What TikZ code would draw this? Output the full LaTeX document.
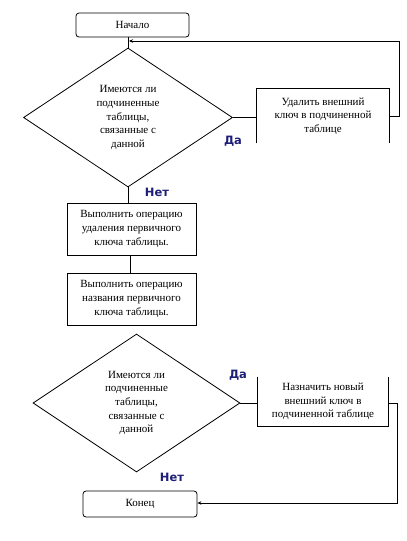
\documentclass[tikz,border=0pt]{standalone}
\usepackage{fontspec}
\setmainfont{Liberation Serif}
\newfontfamily\lblfont{DejaVu Sans}
\usetikzlibrary{shapes.geometric,arrows.meta}
\definecolor{lblblue}{RGB}{30,30,120}
\tikzset{
  every path/.style={line width=0.8pt},
  txt/.style={font=\fontsize{11}{13.7}\selectfont, align=center, inner sep=0pt},
  termbox/.style={txt, draw, rectangle, rounded corners=3pt},
  procbox/.style={txt, rectangle},
  decision/.style={txt, draw, diamond, inner sep=0pt},
  yesno/.style={font=\lblfont\bfseries\fontsize{11.5}{13}\selectfont, text=lblblue, inner sep=0pt},
  arr/.style={-{Stealth[length=4pt,width=3.5pt]}}
}
\begin{document}
\begin{tikzpicture}[x=1pt,y=-1pt]
\useasboundingbox (0,0) rectangle (407,541);
\node[termbox, minimum width=113pt, minimum height=24pt] (start) at (132.5,25) {Начало};
\node[decision, minimum width=209pt, minimum height=139pt] (d1) at (128,117.5)
  {Имеются ли\\подчиненные\\таблицы,\\связанные с\\данной};
\node[procbox, minimum width=132pt, minimum height=54pt] (b1) at (323,116)
  {Удалить внешний\\ключ в подчиненной\\таблице};
\node[procbox, draw, minimum width=129pt, minimum height=52pt] (b2) at (131.5,229)
  {Выполнить операцию\\удаления первичного\\ключа таблицы.};
\node[procbox, draw, minimum width=129pt, minimum height=52pt] (b3) at (131.5,299)
  {Выполнить операцию\\названия первичного\\ключа таблицы.};
\node[decision, minimum width=207pt, minimum height=138pt] (d2) at (136.5,403)
  {Имеются ли\\подчиненные\\таблицы,\\связанные с\\данной};
\node[procbox, minimum width=130pt, minimum height=49pt] (b4) at (323,401.5)
  {Назначить новый\\внешний ключ в\\подчиненной таблице};
\node[termbox, minimum width=114pt, minimum height=26pt] (end) at (140,504) {Конец};

% open-sided boxes
\draw (b1.south west) -- (b1.north west) -- (b1.north east) -- (b1.south east);
\draw (b4.north west) -- (b4.south west) -- (b4.south east) -- (b4.north east);

% connectors
\coordinate (j1) at (128,41);
\coordinate (r1a) at (399,116);
\coordinate (r1b) at (399,41);
\draw (d1.north |- start.south) -- (d1.north);
\draw (d1.east) -- (d1.east -| b1.west);
\draw[arr] (b1.east) -- (r1a) -- (r1b) -- ([xshift=1pt]j1);
\draw (d1.south) -- (d1.south |- b2.north);
\draw ([xshift=-1.5pt]b2.south) -- ([xshift=-1.5pt]b3.north);
\draw (d2.east) -- (d2.east -| b4.west);
\coordinate (r2a) at (397,403);
\coordinate (r2b) at (397,503);
\draw[arr] (d2.east -| b4.east) -- (r2a) -- (r2b) -- (r2b -| end.east);

% labels
\node[yesno] (yes1) at (233,141) {Да};
\node[yesno] (no1) at (157,192) {Нет};
\node[yesno] (yes2) at (238,375) {Да};
\node[yesno] (no2) at (172,477) {Нет};
\end{tikzpicture}
\end{document}
